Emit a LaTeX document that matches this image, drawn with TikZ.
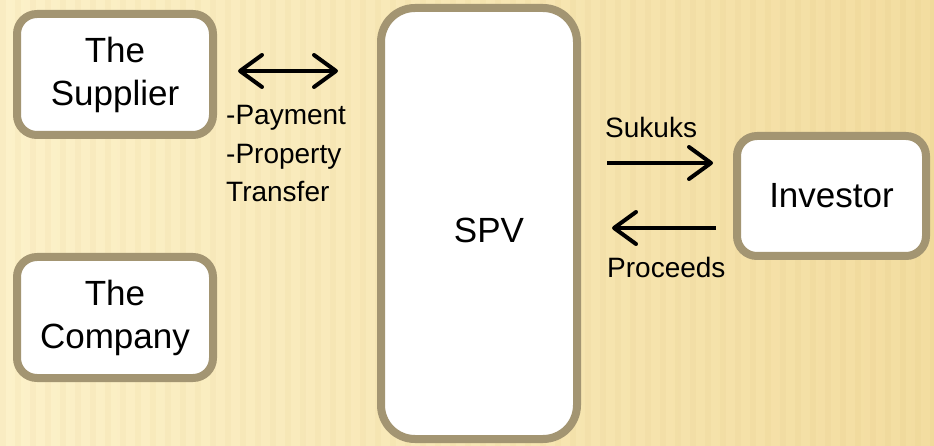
\documentclass[tikz,border=0pt]{standalone}
\usepackage{fontspec}
\setmainfont{Liberation Sans}
\usetikzlibrary{arrows.meta}

\definecolor{paperL}{RGB}{252,241,201}
\definecolor{paperR}{RGB}{243,221,160}
\definecolor{stripe}{RGB}{205,170,90}
\definecolor{frame}{RGB}{163,149,114}

\tikzset{
  box/.style={draw=frame, line width=8pt, fill=white, rounded corners=20pt,
    inner sep=0pt, align=center, font=\fontsize{35}{43}\selectfont},
  lbl/.style={inner sep=0pt, align=left, font=\fontsize{28}{38.5}\selectfont},
  flow/.style={line width=4pt, line join=round,
    -{Straight Barb[length=22pt,width=32pt,line width=4pt,round]}},
  bothway/.style={line width=4pt, line join=round,
    {Straight Barb[length=22pt,width=32pt,line width=4pt,round]}-{Straight Barb[length=22pt,width=32pt,line width=4pt,round]}}
}

\begin{document}
\begin{tikzpicture}[x=1pt,y=-1pt]
  % paper background with soft vertical ribs
  \useasboundingbox (0,0) rectangle (934,446);
  \shade[left color=paperL, right color=paperR] (0,0) rectangle (934,446);
  \foreach \x in {0,15,...,930}{
    \fill[stripe, opacity=0.06] (\x,0) rectangle ++(6,446);
  }

  % parties
  \node[box, minimum width=196pt, minimum height=121pt] (supplier) at (115,74.5) {The\\Supplier};
  \node[box, minimum width=196pt, minimum height=121pt] (company) at (115,317.5) {The\\Company};
  \node[box, rounded corners=34pt, minimum width=196pt, minimum height=431pt] (spv) at (479,223.5) {};
  \node[font=\fontsize{35}{43}\selectfont, inner sep=0pt] (spvtext) at (489,230) {SPV};
  \node[box, minimum width=189pt, minimum height=120pt] (investor) at (831.5,196) {Investor};

  % flow end points
  \coordinate (exA) at (238,71);
  \coordinate (exB) at (338,71);
  \coordinate (sukA) at (607,163);
  \coordinate (sukB) at (713,163);
  \coordinate (proA) at (716,228);
  \coordinate (proB) at (612,228);

  \draw[bothway] (exA) -- (exB);
  \draw[flow] (sukA) -- (sukB);
  \draw[flow] (proA) -- (proB);

  % flow labels (base anchor sits on the last line)
  \node[lbl, anchor=base west] (exlbl) at (226,202) {-Payment\\-Property\\Transfer};
  \node[lbl, anchor=base west] (suklbl) at (605,138) {Sukuks};
  \node[lbl, anchor=base west] (prolbl) at (607,277) {Proceeds};
\end{tikzpicture}
\end{document}
